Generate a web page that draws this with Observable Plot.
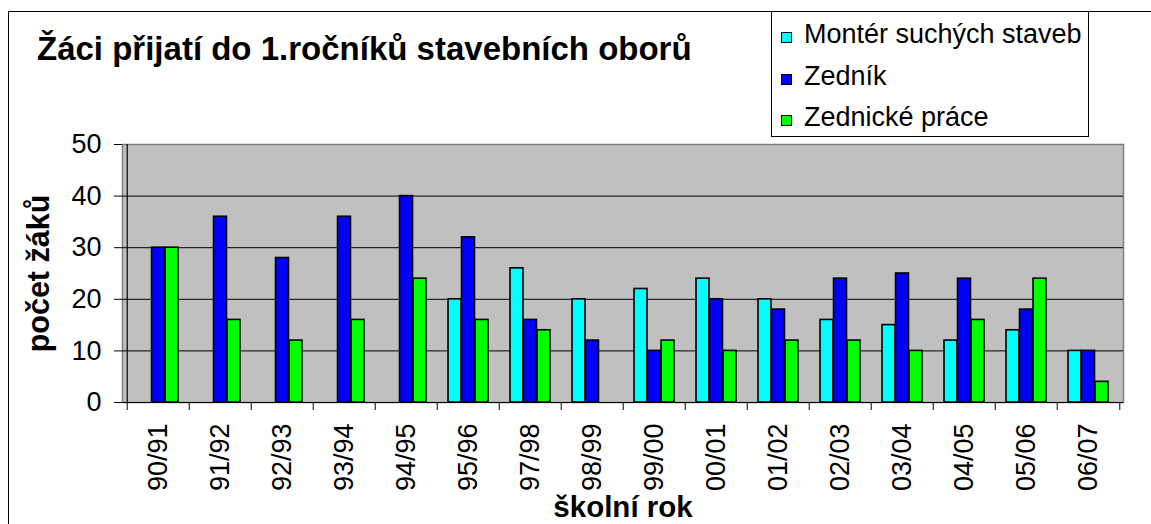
<!DOCTYPE html>
<html>
<head>
<meta charset="utf-8">
<script src="https://cdn.jsdelivr.net/npm/d3@7"></script>
<script src="https://cdn.jsdelivr.net/npm/@observablehq/plot@0.6"></script>
<style>
  body { margin: 0; background: #fff; font-family: "Liberation Sans", Arial, sans-serif; }
  #wrap { position: relative; width: 1151px; height: 524px; overflow: hidden; background: #fff; }
  #border { position: absolute; left: 8px; top: 11px; width: 1300px; height: 700px;
            border-left: 1px solid #000; border-top: 1px solid #000; }
  #chart { position: absolute; left: 0; top: 0; }
  #title { position: absolute; left: 37px; top: 32px; font-weight: bold; font-size: 33px;
           line-height: 33px; white-space: nowrap; color: #000; }
  #legend { position: absolute; left: 771px; top: 11px; width: 318px; height: 126px;
            box-sizing: border-box; border: 1px solid #000; background: #fff; }
  .sw { position: absolute; left: 9px; width: 11px; height: 11px; border: 1px solid #000; box-sizing: border-box; }
  .lt { position: absolute; left: 32px; font-size: 27px; line-height: 27px; white-space: nowrap; color: #000; }
</style>
</head>
<body>
<div id="wrap">
  <div id="border"></div>
  <div id="chart"></div>
  <div id="title"></div>
  <div id="legend"></div>
</div>
<script>
const titleText = "Žáci přijatí do 1.ročníků stavebních oborů";
const xTitle = "školní rok";
const yTitle = "počet žáků";
const years = ["90/91","91/92","92/93","93/94","94/95","95/96","97/98","98/99","99/00","00/01","01/02","02/03","03/04","04/05","05/06","06/07"];
const monter   = [0, 0, 0, 0, 0, 20, 26, 20, 22, 24, 20, 16, 15, 12, 14, 10];
const zednik   = [30, 36, 28, 36, 40, 32, 16, 12, 10, 20, 18, 24, 25, 24, 18, 10];
const zednicke = [30, 16, 12, 16, 24, 16, 14, 0, 12, 10, 12, 12, 10, 16, 24, 4];
const seriesNames = ["Montér suchých staveb", "Zedník", "Zednické práce"];
const seriesValues = [monter, zednik, zednicke];
const colors = ["#00ffff", "#0000ff", "#00ff00"];
const yTicks = [0, 10, 20, 30, 40, 50];

// layout
const W = 1151, H = 524;
const mL = 122, mR = 28, mT = 144, mB = 122;
const step = (W - mL - mR) / years.length;
const barW = step * 0.216;
const outer = (step - 3 * barW) / 2;

document.getElementById("title").textContent = titleText;

const barMarks = seriesValues.map((vals, i) => {
  const data = years.map((y, j) => ({year: y, value: vals[j]})).filter(d => d.value > 0);
  const left = outer + i * barW;
  return Plot.barY(data, {
    x: "year", y: "value", fill: colors[i], stroke: "#000", strokeWidth: 1.6,
    insetLeft: left, insetRight: step - left - barW
  });
});

const chart = Plot.plot({
  width: W, height: H,
  marginLeft: mL, marginRight: mR, marginTop: mT, marginBottom: mB,
  style: { fontFamily: '"Liberation Sans", Arial, sans-serif', background: "transparent", color: "#000" },
  x: { type: "band", domain: years, padding: 0 },
  y: { domain: [0, 50] },
  marks: [
    Plot.frame({ fill: "#c0c0c0", stroke: "#808080", strokeWidth: 1.5 }),
    Plot.gridY({ ticks: [10, 20, 30, 40], stroke: "#000", strokeOpacity: 1, strokeWidth: 1 }),
    ...barMarks,
    Plot.ruleY([0], { stroke: "#000", strokeWidth: 1.2 }),
    Plot.ruleX([years[0]], { x: d => d, dx: -step / 2, stroke: "#000", strokeWidth: 1.2 }),
    Plot.ruleX(years, { x: d => d, y1: 0, y2: 0, dx: -step / 2, insetBottom: -8, stroke: "#000", strokeWidth: 1 }),
    Plot.ruleX([years[years.length - 1]], { x: d => d, y1: 0, y2: 0, dx: step / 2, insetBottom: -8, stroke: "#000", strokeWidth: 1 }),
    Plot.axisY({ ticks: yTicks, tickSize: 8, tickPadding: 13, fontSize: 27, label: null }),
    Plot.axisX({ tickSize: 0, tickRotate: -90, tickPadding: 21, fontSize: 27, label: null }),
    Plot.text([xTitle], { text: d => d, frameAnchor: "bottom", textAnchor: "middle", dy: 105, fontSize: 29.5, fontWeight: "bold", lineAnchor: "middle" }),
    Plot.text([yTitle], { text: d => d, frameAnchor: "left", textAnchor: "middle", rotate: -90, dx: -83.5, fontSize: 30.5, fontWeight: "bold", lineAnchor: "middle" })
  ]
});
document.getElementById("chart").appendChild(chart);

// legend
const legend = document.getElementById("legend");
const rowTops = [20, 61.5, 103];
seriesNames.forEach((name, i) => {
  const sw = document.createElement("div");
  sw.className = "sw";
  sw.style.top = rowTops[i] + "px";
  sw.style.background = colors[i];
  legend.appendChild(sw);
  const t = document.createElement("div");
  t.className = "lt";
  t.style.top = (rowTops[i] - 11) + "px";
  t.textContent = name;
  legend.appendChild(t);
});
</script>
</body>
</html>
